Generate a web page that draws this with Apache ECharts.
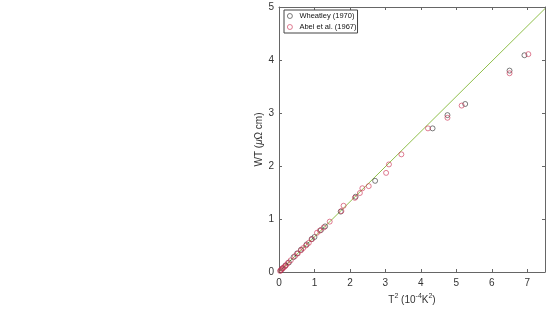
<!DOCTYPE html>
<html>
<head>
<meta charset="utf-8">
<script src="https://cdn.jsdelivr.net/npm/echarts@6/dist/echarts.min.js"></script>
<style>html,body{margin:0;padding:0;background:#fff}#c{width:548px;height:311px}</style>
</head>
<body>
<div id="c"></div>
<script>
var seriesNames = ['Wheatley (1970)', 'Abel et al. (1967)'];
var wheatley = [[0.05,0.03],[0.10,0.07],[0.18,0.12],[0.28,0.18],[0.41,0.28],[0.51,0.35],[0.62,0.42],[0.78,0.52],[0.92,0.62],[1.00,0.66],[1.18,0.79],[1.30,0.86],[1.74,1.14],[2.16,1.42],[2.71,1.72],[4.33,2.71],[4.75,2.96],[5.25,3.17],[6.50,3.80],[6.92,4.09]];
var abel = [[0.03,0.02],[0.06,0.04],[0.09,0.06],[0.12,0.08],[0.16,0.10],[0.20,0.13],[0.25,0.17],[0.33,0.22],[0.45,0.30],[0.53,0.35],[0.62,0.41],[0.68,0.45],[0.76,0.50],[0.84,0.55],[0.93,0.62],[1.07,0.74],[1.15,0.78],[1.26,0.84],[1.43,0.95],[1.76,1.15],[1.82,1.25],[2.14,1.40],[2.28,1.49],[2.35,1.58],[2.53,1.62],[3.02,1.87],[3.10,2.03],[3.45,2.22],[4.20,2.71],[4.75,2.91],[5.15,3.14],[6.50,3.75],[7.03,4.11]];
var fitLine = [[0,0],[7.5,4.97]];
var xTicks = [0,1,2,3,4,5,6,7];
var yTicks = [0,1,2,3,4,5];

var axisCol = '#666';
var font = 'Liberation Sans, Arial, sans-serif';
var colBlack = '#333';
var colRed = '#cc3355';
var clear = 'rgba(255,255,255,0)';
var chart = echarts.init(document.getElementById('c'));
function baseAxis(max) {
  return {
    type: 'value', min: 0, max: max, interval: 1,
    axisLine: {show: true, onZero: false, lineStyle: {color: axisCol, width: 1}},
    axisTick: {show: true, inside: true, length: 3, lineStyle: {color: axisCol}},
    splitLine: {show: false}
  };
}
chart.setOption({
  animation: false,
  textStyle: {fontFamily: font},
  grid: {left: 279, right: 3, top: 7, bottom: 38, containLabel: false},
  legend: {
    show: true, left: 284, top: 10, orient: 'vertical',
    data: [
      {name: seriesNames[0], icon: 'circle', itemStyle: {color: clear, borderColor: colBlack, borderWidth: 0.8}},
      {name: seriesNames[1], icon: 'circle', itemStyle: {color: clear, borderColor: colRed, borderWidth: 0.8}}
    ],
    itemWidth: 5, itemHeight: 5, itemGap: 3,
    padding: [2, 1, 2, 3],
    borderColor: '#444', borderWidth: 1, backgroundColor: '#fff',
    textStyle: {fontSize: 7.5, color: '#111', fontFamily: font, padding: [0,0,0,2]}
  },
  xAxis: [
    Object.assign(baseAxis(7.5), {
      position: 'bottom',
      axisLabel: {show: true, color: '#333', fontSize: 10, margin: 6, showMaxLabel: false,
        formatter: function(v){ return xTicks.indexOf(v) >= 0 ? String(v) : ''; }},
      name: '{n|T}{s|2}{n| (10}{s|-4}{n|K}{s|2}{n|)}',
      nameLocation: 'middle', nameGap: 21,
      nameTextStyle: {rich: {
        n: {fontSize: 10, color: '#333', fontFamily: font, verticalAlign: 'bottom', lineHeight: 12},
        s: {fontSize: 7, color: '#333', fontFamily: font, verticalAlign: 'top', lineHeight: 12, padding: [0,0,6,0]}
      }}
    }),
    Object.assign(baseAxis(7.5), {position: 'top', axisLabel: {show: false}})
  ],
  yAxis: [
    Object.assign(baseAxis(5), {
      position: 'left',
      axisLabel: {show: true, color: '#333', fontSize: 10, margin: 5,
        formatter: function(v){ return yTicks.indexOf(v) >= 0 ? String(v) : ''; }},
      name: '{n|WT (}{i|μ}{n|Ω cm)}',
      nameLocation: 'middle', nameGap: 15, nameRotate: 90,
      nameTextStyle: {rich: {
        n: {fontSize: 10, color: '#333', fontFamily: font},
        i: {fontSize: 10, color: '#333', fontFamily: font, fontStyle: 'italic'}
      }}
    }),
    Object.assign(baseAxis(5), {position: 'right', axisLabel: {show: false}})
  ],
  series: [
    {
      type: 'line', data: fitLine, symbol: 'none', silent: true,
      lineStyle: {color: '#8fbf4a', width: 1}, z: 1
    },
    {
      name: seriesNames[0], type: 'scatter', data: wheatley,
      symbol: 'circle', symbolSize: 5,
      itemStyle: {color: clear, borderColor: colBlack, borderWidth: 0.8}, z: 3
    },
    {
      name: seriesNames[1], type: 'scatter', data: abel,
      symbol: 'circle', symbolSize: 5,
      itemStyle: {color: clear, borderColor: colRed, borderWidth: 0.8}, z: 4
    }
  ]
});
</script>
</body>
</html>
